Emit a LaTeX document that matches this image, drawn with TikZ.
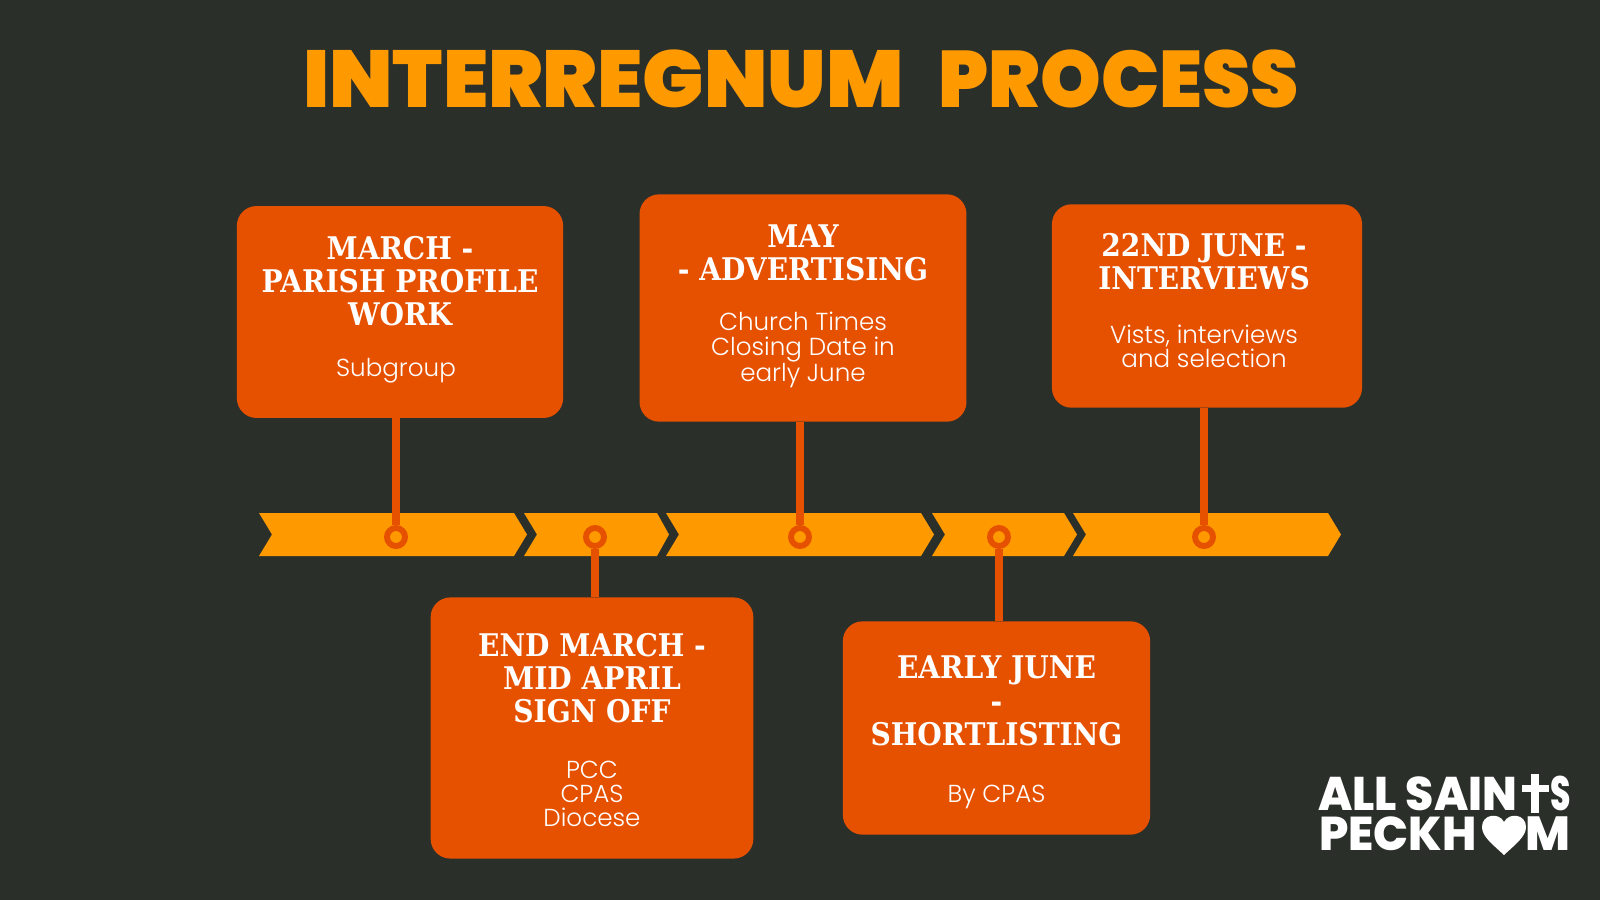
\documentclass[tikz,border=0pt]{standalone}
\usepackage{graphicx}
\usepackage{fontspec}
\setmainfont{Poppins Light}
\newfontfamily\titlefont{Poppins Black}
\newfontfamily\headfont{DejaVu Serif Condensed Bold}
\newfontfamily\logofont{Poppins ExtraBold}
\usetikzlibrary{positioning, calc}
\definecolor{bgdark}{HTML}{2B2F2A}
\definecolor{amber}{HTML}{FF9900}
\definecolor{burnt}{HTML}{E65100}
\tikzset{
    x=0.025cm, y=-0.025cm,
    card/.style={fill=burnt, rounded corners=14pt},
    chev/.style={fill=amber},
    stem/.style={draw=burnt, line width=5pt},
    pin/.style={circle, draw=burnt, line width=4.2pt, fill=amber, minimum size=12.8pt, inner sep=0pt},
    head/.style={text=white, align=center, font=\fontsize{22.2}{23.6}\headfont},
    sub/.style={text=white, align=center, font=\fontsize{17.5}{17.2}\selectfont},
    logo/.style={text=white, anchor=south west, inner sep=0pt, font=\logofont}
}
\begin{document}
\begin{tikzpicture}
    \fill[bgdark] (0,0) rectangle (1600,900);
    \useasboundingbox (0,0) rectangle (1600,900);

    % --- Title ---
    \node[text=amber, inner sep=0pt] (title) at (801,79) {\titlefont\resizebox{427pt}{41pt}{INTERREGNUM}\hspace{25pt}\resizebox{256pt}{41pt}{PROCESS}};

    % --- Chevrons ---
    \fill[chev] (259,513) -- (514,513) -- (527,534.5) -- (514,556) -- (259,556) -- (272,534.5) -- cycle;
    \fill[chev] (524,513) -- (657,513) -- (669,534.5) -- (657,556) -- (524,556) -- (537,534.5) -- cycle;
    \fill[chev] (666,513) -- (921,513) -- (934,534.5) -- (921,556) -- (666,556) -- (679,534.5) -- cycle;
    \fill[chev] (932,513) -- (1064,513) -- (1077,534.5) -- (1064,556) -- (932,556) -- (945,534.5) -- cycle;
    \fill[chev] (1073,513) -- (1328,513) -- (1341,534.5) -- (1328,556) -- (1073,556) -- (1086,534.5) -- cycle;

    % --- Cards ---
    \node[card, minimum width=232pt, minimum height=150.7pt] (parish) at (400,312) {};
    \node[card, minimum width=232.5pt, minimum height=161.7pt] (advert) at (803,308) {};
    \node[card, minimum width=220.5pt, minimum height=144.7pt] (interview) at (1207,306) {};
    \node[card, minimum width=229.5pt, minimum height=185.7pt] (signoff) at (592,728) {};
    \node[card, minimum width=218.5pt, minimum height=151.7pt] (shortlist) at (996.5,728) {};

    % --- Pins ---
    \node[pin] (pina) at (396,537) {};
    \node[pin] (pinb) at (595,537) {};
    \node[pin] (pinc) at (800,537) {};
    \node[pin] (pind) at (999,537) {};
    \node[pin] (pine) at (1204,537) {};

    % --- Stems ---
    \draw[stem] (parish.south -| pina) -- (pina);
    \draw[stem] (advert.south -| pinc) -- (pinc);
    \draw[stem] (interview.south -| pine) -- (pine);
    \draw[stem] (signoff.north -| pinb) -- (pinb);
    \draw[stem] (shortlist.north -| pind) -- (pind);

    % --- Card text ---
    \node[head] (parishhead) at (400,281) {MARCH -\\PARISH PROFILE\\WORK};
    \node[sub] (parishsub) at (396,371) {Subgroup};
    \node[head] (adverthead) at (803,253) {MAY\\- ADVERTISING};
    \node[sub] (advertsub) at (803,350) {Church Times\\Closing Date in\\early June};
    \node[head] (interviewhead) at (1204,262) {22ND JUNE -\\INTERVIEWS};
    \node[sub] (interviewsub) at (1204,346) {Vists, interviews\\and selection};
    \node[head] (signoffhead) at (592,678) {END MARCH -\\MID APRIL\\SIGN OFF};
    \node[sub] (signoffsub) at (592,794) {PCC\\CPAS\\Diocese};
    \node[head] (shortlisthead) at (996.5,701) {EARLY JUNE\\-\\SHORTLISTING};
    \node[sub] (shortlistsub) at (996.5,797) {By CPAS};

    % --- Logo ---
    \node[logo] (logotop) at (1318,811) {\resizebox{141.5pt}{24pt}{ALL SAIN}};
    \fill[white] (1531,774) rectangle (1539,813);
    \fill[white] (1522,785) rectangle (1549,792);
    \node[logo] (logotopend) at (1550,811.5) {\resizebox{14.5pt}{24.5pt}{S}};
    \node[logo] (logobot) at (1319,851) {\resizebox{112pt}{24pt}{PECKH}};
    \fill[white] (1504,855) .. controls (1491,843) and (1482,836) .. (1482,827) .. controls (1482,814) and (1499,812) .. (1504,822) .. controls (1509,812) and (1526,814) .. (1526,827) .. controls (1526,836) and (1517,843) .. (1504,855) -- cycle;
    \node[logo] (logobotend) at (1525,851) {\resizebox{32pt}{24pt}{M}};
\end{tikzpicture}
\end{document}
